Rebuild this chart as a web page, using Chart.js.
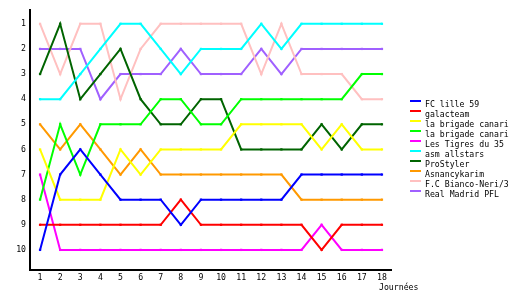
<!DOCTYPE html>
<html>
<head>
<meta charset="utf-8">
<script src="https://cdn.jsdelivr.net/npm/chart.js@4/dist/chart.umd.min.js"></script>
<style>
  html, body { margin:0; padding:0; background:#fff; }
  #wrap { width:530px; height:300px; position:relative; }
</style>
</head>
<body>
<div id="wrap"><canvas id="rankChart"></canvas></div>
<script>
// classement par journée
const days = [1,2,3,4,5,6,7,8,9,10,11,12,13,14,15,16,17,18];
const rankTicks = [1,2,3,4,5,6,7,8,9,10];
const teams = ["FC lille 59","galacteam","la brigade canari","la brigade canari","Les Tigres du 35","asm allstars","ProStyler","Asnancykarim","F.C Bianco-Neri/3","Real Madrid PFL"];
const colors = ["#0000ff","#ff0000","#ffff00","#00ff00","#ff00ff","#00ffff","#006400","#ff9900","#ffc0c0","#a060ff"];

const lille     = [10,7,6,7,8,8,8,9,8,8,8,8,8,7,7,7,7,7];
const galac     = [9,9,9,9,9,9,9,8,9,9,9,9,9,9,10,9,9,9];
const canariA   = [6,8,8,8,6,7,6,6,6,6,5,5,5,5,6,5,6,6];
const canariB   = [8,5,7,5,5,5,4,4,5,5,4,4,4,4,4,4,3,3];
const tigres    = [7,10,10,10,10,10,10,10,10,10,10,10,10,10,9,10,10,10];
const asm       = [4,4,3,2,1,1,2,3,2,2,2,1,2,1,1,1,1,1];
const prostyler = [3,1,4,3,2,4,5,5,4,4,6,6,6,6,5,6,5,5];
const asnancy   = [5,6,5,6,7,6,7,7,7,7,7,7,7,8,8,8,8,8];
const bianco    = [1,3,1,1,4,2,1,1,1,1,1,3,1,3,3,3,4,4];
const realM     = [2,2,2,4,3,3,3,2,3,3,3,2,3,2,2,2,2,2];

const series = [lille,galac,canariA,canariB,tigres,asm,prostyler,asnancy,bianco,realM];
const FONT = "DejaVu Sans Mono";

const sideLegend = {
  id:'sideLegend',
  afterDraw(chart){
    const ctx = chart.ctx;
    ctx.save();
    ctx.font = "8.2px '" + FONT + "'";
    ctx.textBaseline = 'middle';
    chart.data.datasets.forEach((ds,i)=>{
      const y = 105 + i*10;
      ctx.fillStyle = ds.borderColor;
      ctx.fillRect(410, y-5, 11, 2);
      ctx.fillStyle = '#000';
      ctx.fillText(ds.label, 425, y);
    });
    ctx.fillText('Journées', 379, 288);
    ctx.restore();
  }
};

new Chart(document.getElementById('rankChart'), {
  type:'line',
  data:{
    datasets: series.map((s,i)=>({
      label: teams[i],
      data: s.map((r,j)=>({x:days[j], y:r})),
      borderColor: colors[i],
      backgroundColor: colors[i],
      borderWidth: 2,
      pointStyle: 'rect',
      pointRadius: 1.6,
      pointBorderWidth: 0,
      tension: 0
    }))
  },
  options:{
    responsive:true,
    maintainAspectRatio:false,
    animation:false,
    layout:{ padding:{ top:10, right:139, left:0, bottom:0 } },
    plugins:{ legend:{ display:false }, tooltip:{ enabled:false } },
    scales:{
      x:{
        type:'linear', min:0.5, max:18.45,
        grid:{ display:false, drawTicks:false },
        border:{ color:'#000', width:2 },
        afterBuildTicks: sc => { sc.ticks = days.map(v=>({value:v})); },
        afterFit: sc => { sc.height = 30; },
        ticks:{ color:'#000', padding:3, maxRotation:0, autoSkip:false, font:{ family:FONT, size:8.2 } }
      },
      y:{
        reverse:true, min:0.45, max:10.8,
        grid:{ display:false, drawTicks:false },
        border:{ color:'#000', width:2 },
        afterBuildTicks: sc => { sc.ticks = rankTicks.map(v=>({value:v})); },
        afterFit: sc => { sc.width = 30; },
        ticks:{ color:'#000', padding:4, autoSkip:false, font:{ family:FONT, size:8.2 } }
      }
    }
  },
  plugins:[sideLegend]
});
</script>
</body>
</html>
